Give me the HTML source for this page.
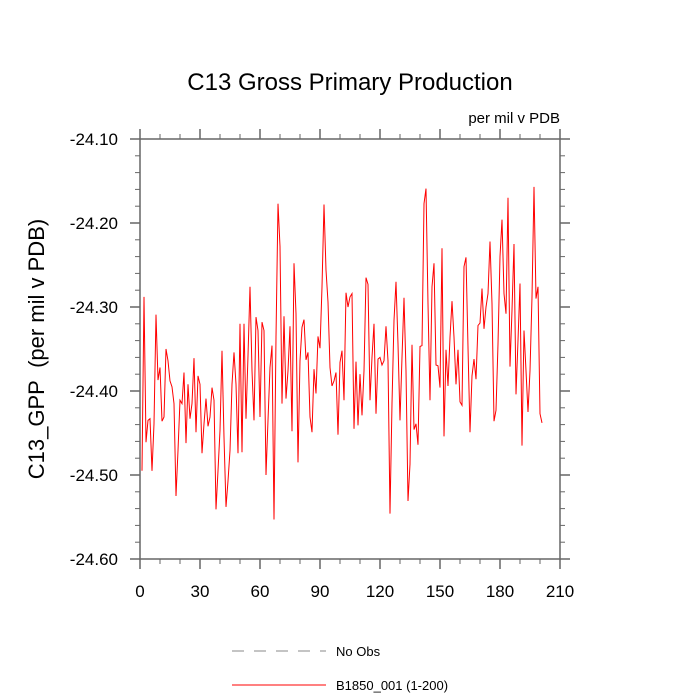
<!DOCTYPE html>
<html><head><meta charset="utf-8"><style>
body{margin:0;background:#fff;}
svg{display:block;font-family:"Liberation Sans",sans-serif;}
</style></head><body>
<svg id="chart" width="700" height="700">
<text x="350" y="90" font-size="24" text-anchor="middle">C13 Gross Primary Production</text>
<text x="560" y="123" font-size="15" text-anchor="end">per mil v PDB</text>
<text transform="translate(44,349) rotate(-90)" font-size="22" text-anchor="middle">C13_GPP&#160; (per mil v PDB)</text>
<g id="axes"></g>
<g id="series"></g>
<g>
<line x1="232" y1="651" x2="326" y2="651" stroke="#888" stroke-dasharray="12,10"/>
<text x="336" y="656" font-size="13">No Obs</text>
<line x1="232" y1="685" x2="326" y2="685" stroke="#f00"/>
<text x="336" y="690" font-size="13">B1850_001 (1-200)</text>
</g>
</svg>
<script>
const xTicks=[0,30,60,90,120,150,180,210];
const yTicks=[-24.10,-24.20,-24.30,-24.40,-24.50,-24.60];
const yTickLabels=["-24.10","-24.20","-24.30","-24.40","-24.50","-24.60"];
const gpp=[-24.495,-24.288,-24.461,-24.435,-24.433,-24.495,-24.439,-24.309,-24.387,-24.372,-24.436,-24.431,-24.350,-24.364,-24.388,-24.395,-24.415,-24.525,-24.471,-24.411,-24.415,-24.378,-24.462,-24.392,-24.433,-24.415,-24.361,-24.449,-24.382,-24.392,-24.474,-24.439,-24.409,-24.442,-24.431,-24.396,-24.411,-24.541,-24.495,-24.447,-24.352,-24.455,-24.538,-24.507,-24.471,-24.392,-24.354,-24.392,-24.474,-24.320,
-24.473,-24.320,-24.433,-24.358,-24.276,-24.376,-24.435,-24.312,-24.328,-24.431,-24.318,-24.328,-24.500,-24.435,-24.372,-24.346,-24.553,-24.336,-24.177,-24.228,-24.415,-24.311,-24.409,-24.376,-24.323,-24.448,-24.248,-24.308,-24.485,-24.364,-24.324,-24.315,-24.363,-24.354,-24.431,-24.449,-24.374,-24.403,-24.335,-24.349,-24.276,-24.178,-24.256,-24.294,-24.372,-24.394,-24.388,-24.378,-24.452,-24.366,-24.352,-24.411,-24.283,-24.300,-24.288,-24.284,
-24.445,-24.365,-24.441,-24.380,-24.429,-24.376,-24.265,-24.273,-24.411,-24.360,-24.320,-24.427,-24.362,-24.360,-24.369,-24.364,-24.323,-24.364,-24.546,-24.415,-24.316,-24.270,-24.344,-24.435,-24.360,-24.289,-24.376,-24.531,-24.487,-24.345,-24.446,-24.439,-24.464,-24.347,-24.346,-24.177,-24.159,-24.296,-24.411,-24.276,-24.248,-24.369,-24.370,-24.396,-24.230,-24.454,-24.351,-24.394,-24.336,-24.293,
-24.336,-24.392,-24.351,-24.413,-24.417,-24.252,-24.241,-24.348,-24.449,-24.382,-24.362,-24.386,-24.322,-24.319,-24.278,-24.326,-24.300,-24.284,-24.222,-24.296,-24.436,-24.423,-24.344,-24.240,-24.196,-24.284,-24.308,-24.170,-24.371,-24.304,-24.225,-24.404,-24.340,-24.272,-24.465,-24.328,-24.376,-24.425,-24.376,-24.288,-24.157,-24.290,-24.276,-24.427,-24.438];
const L=140,R=560,T=139,B=559;
const sx=v=>L+(v-0)/(210-0)*(R-L);
const sy=v=>T+(-24.10-v)/(0.5)*(B-T);
const NS="http://www.w3.org/2000/svg";
const axes=document.getElementById('axes');
function mk(tag,attrs,parent){const e=document.createElementNS(NS,tag);for(const k in attrs)e.setAttribute(k,attrs[k]);parent.appendChild(e);return e;}
const frame=mk('rect',{x:L,y:T,width:R-L,height:B-T,fill:'none',stroke:'#666','stroke-width':1.5},axes);


xTicks.forEach(t=>{
  const x=sx(t);
  mk('line',{x1:x,y1:B,x2:x,y2:B+10,stroke:'#666','stroke-width':1.5},axes);
  mk('line',{x1:x,y1:T,x2:x,y2:T-10,stroke:'#666','stroke-width':1.5},axes);
  const tx=mk('text',{x:x,y:B+38,'font-size':17,'text-anchor':'middle'},axes);
  tx.textContent=t;
  
  
});
for(let t=0;t<210;t+=10){if(t%30===0)continue;const x=sx(t);
  mk('line',{x1:x,y1:B,x2:x,y2:B+5,stroke:'#666'},axes);
  mk('line',{x1:x,y1:T,x2:x,y2:T-5,stroke:'#666'},axes);}
yTicks.forEach((t,i)=>{
  const y=sy(t);
  mk('line',{x1:L,y1:y,x2:L-10,y2:y,stroke:'#666','stroke-width':1.5},axes);
  mk('line',{x1:R,y1:y,x2:R+10,y2:y,stroke:'#666','stroke-width':1.5},axes);
  const tx=mk('text',{x:L-22,y:y+6,'font-size':17,'text-anchor':'end'},axes);
  tx.textContent=yTickLabels[i];
  
  
});
for(let k=1;k<25;k++){if(k%5===0)continue;const y=sy(-24.10-k*0.02);
  mk('line',{x1:L,y1:y,x2:L-5,y2:y,stroke:'#666'},axes);
  mk('line',{x1:R,y1:y,x2:R+5,y2:y,stroke:'#666'},axes);}
const pts=gpp.map((v,i)=>sx(i+1).toFixed(1)+','+sy(v).toFixed(1)).join(' ');
const line=mk('polyline',{points:pts,fill:'none',stroke:'#f00','stroke-width':1},document.getElementById('series'));


</script>
</body></html>
